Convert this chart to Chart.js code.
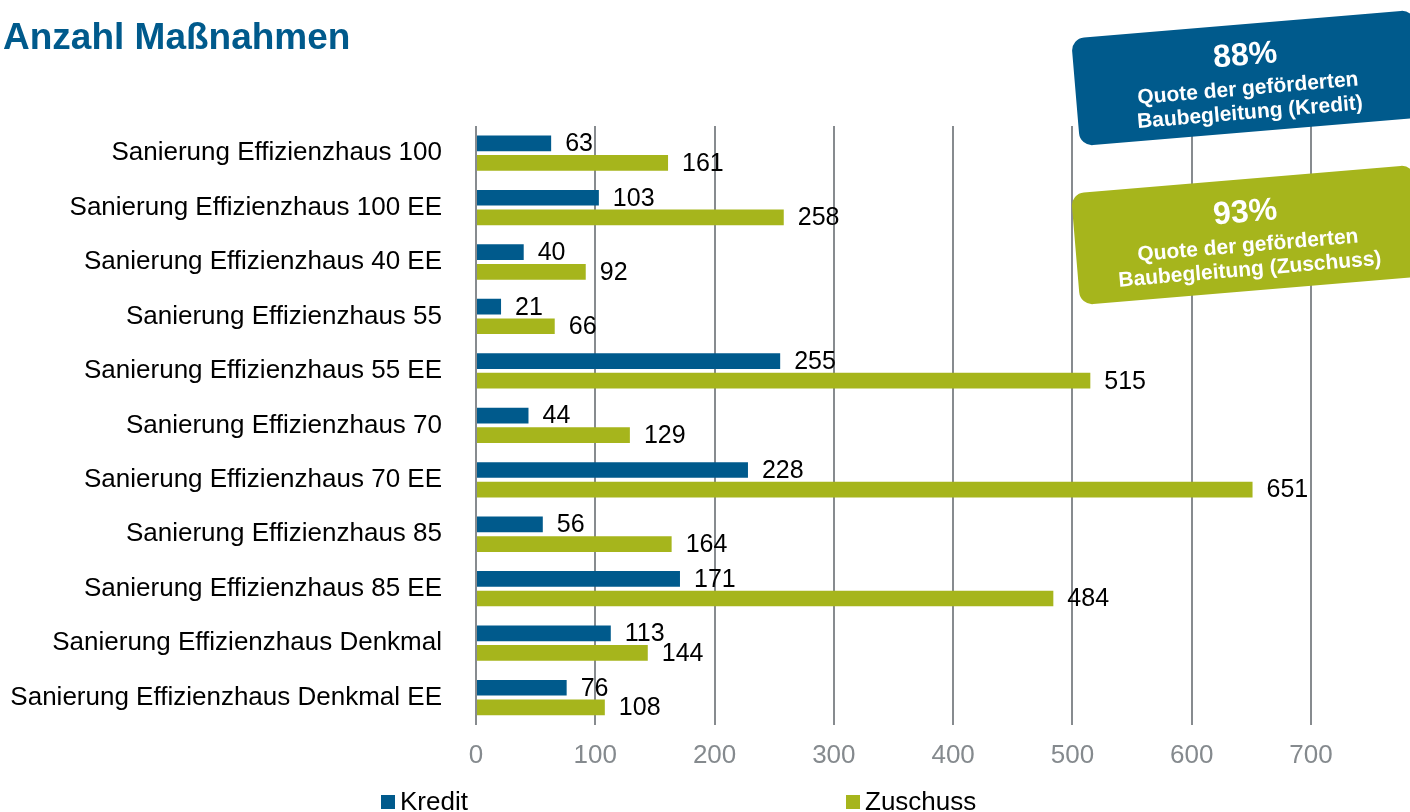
<!DOCTYPE html>
<html lang="de">
<head>
<meta charset="utf-8">
<title>Anzahl Maßnahmen</title>
<script src="https://cdn.jsdelivr.net/npm/chart.js@4.4.1/dist/chart.umd.min.js"></script>
<style>
  html, body { margin: 0; padding: 0; background: #fff; }
  #wrap { position: relative; width: 1410px; height: 812px; }
</style>
</head>
<body>
<div id="wrap"><canvas id="massnahmenChart"></canvas></div>
<script>
const categories = [
  "Sanierung Effizienzhaus 100",
  "Sanierung Effizienzhaus 100 EE",
  "Sanierung Effizienzhaus 40 EE",
  "Sanierung Effizienzhaus 55",
  "Sanierung Effizienzhaus 55 EE",
  "Sanierung Effizienzhaus 70",
  "Sanierung Effizienzhaus 70 EE",
  "Sanierung Effizienzhaus 85",
  "Sanierung Effizienzhaus 85 EE",
  "Sanierung Effizienzhaus Denkmal",
  "Sanierung Effizienzhaus Denkmal EE"
];
const kredit = [63, 103, 40, 21, 255, 44, 228, 56, 171, 113, 76];
const zuschuss = [161, 258, 92, 66, 515, 129, 651, 164, 484, 144, 108];
const seriesNames = ["Kredit", "Zuschuss"];
const xTicks = [0, 100, 200, 300, 400, 500, 600, 700];
const quoteValues = ["88%", "93%"];
const quoteLabels = [
  ["Quote der geförderten", "Baubegleitung (Kredit)"],
  ["Quote der geförderten", "Baubegleitung (Zuschuss)"]
];

const FONT = "'Liberation Sans', Arial, sans-serif";
const BLUE = "#005a8c";
const GREEN = "#a6b51c";
const GRID = "#878b8f";

const canvas = document.getElementById("massnahmenChart");
const ctx = canvas.getContext("2d");

// numbers next to the bar ends
const valueLabels = {
  id: "valueLabels",
  afterDatasetsDraw(chart) {
    const c = chart.ctx;
    c.save();
    c.font = "25px " + FONT;
    c.fillStyle = "#000";
    c.textAlign = "left";
    c.textBaseline = "middle";
    chart.data.datasets.forEach((ds, i) => {
      chart.getDatasetMeta(i).data.forEach((bar, j) => {
        c.fillText(ds.data[j], bar.x + 14, bar.y + 1);
      });
    });
    c.restore();
  }
};

function drawCallout(c, cx, cy, w, h, color, big, lines) {
  c.save();
  c.translate(cx, cy);
  c.rotate(-4.8 * Math.PI / 180);
  c.fillStyle = color;
  c.beginPath();
  c.roundRect(-w / 2, -h / 2, w, h, 13);
  c.fill();
  c.fillStyle = "#fff";
  c.textAlign = "center";
  c.textBaseline = "middle";
  c.font = "bold 32px " + FONT;
  c.fillText(big, 0, -22);
  c.font = "bold 21px " + FONT;
  c.fillText(lines[0], 0, 11);
  c.fillText(lines[1], 0, 35);
  c.restore();
}

// rotated quote boxes + legend at the bottom
const extras = {
  id: "extras",
  afterDraw(chart) {
    const c = chart.ctx;
    drawCallout(c, 1247, 78, 344, 108, BLUE, quoteValues[0], quoteLabels[0]);
    drawCallout(c, 1247, 235, 344, 112, GREEN, quoteValues[1], quoteLabels[1]);

    c.save();
    c.font = "26px " + FONT;
    c.textBaseline = "alphabetic";
    const legendX = [381, 846];
    chart.data.datasets.forEach((ds, i) => {
      c.fillStyle = ds.backgroundColor;
      c.fillRect(legendX[i], 795, 14, 14);
      c.fillStyle = "#000";
      c.fillText(ds.label, legendX[i] + 19, 810);
    });
    c.restore();
  }
};

new Chart(ctx, {
  type: "bar",
  data: {
    labels: categories,
    datasets: [
      { label: seriesNames[0], data: kredit, backgroundColor: BLUE, categoryPercentage: 0.72, barPercentage: 0.8 },
      { label: seriesNames[1], data: zuschuss, backgroundColor: GREEN, categoryPercentage: 0.72, barPercentage: 0.8 }
    ]
  },
  options: {
    indexAxis: "y",
    responsive: true,
    maintainAspectRatio: false,
    animation: false,
    layout: { padding: { left: 3, right: 0, top: 0, bottom: 26 } },
    plugins: {
      legend: { display: false },
      tooltip: { enabled: false },
      title: {
        display: true,
        text: "Anzahl Maßnahmen",
        align: "start",
        color: BLUE,
        font: { family: FONT, size: 37, weight: "bold" },
        padding: { top: 17, bottom: 64.5 }
      }
    },
    scales: {
      x: {
        min: 0,
        max: 783,
        border: { display: false },
        grid: { color: GRID, lineWidth: 2, drawTicks: false },
        ticks: {
          padding: 15,
          color: "#858a8e",
          font: { family: FONT, size: 26 }
        },
        afterBuildTicks(scale) {
          scale.ticks = xTicks.map(v => ({ value: v }));
        }
      },
      y: {
        grid: { display: false, drawTicks: false },
        border: { display: false },
        ticks: {
          padding: 34,
          autoSkip: false,
          color: "#000",
          font: { family: FONT, size: 26 }
        },
        afterFit(scale) {
          scale.width = 473;
        }
      }
    }
  },
  plugins: [valueLabels, extras]
});
</script>
</body>
</html>
